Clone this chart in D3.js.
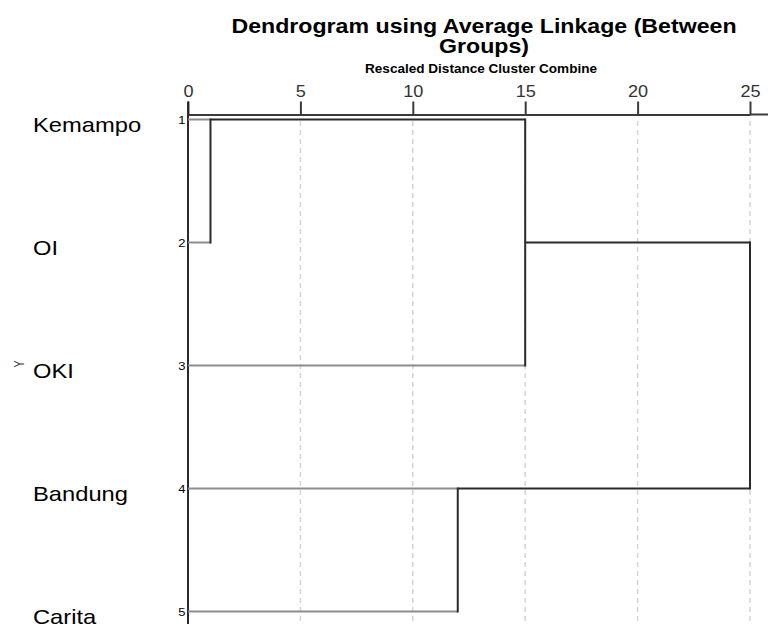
<!DOCTYPE html>
<html>
<head>
<meta charset="utf-8">
<script src="https://cdn.jsdelivr.net/npm/d3@7"></script>
<style>
  html, body { margin: 0; padding: 0; background: #fff; overflow: hidden; }
  svg { display: block; font-family: "Liberation Sans", Arial, sans-serif; }
</style>
</head>
<body>
<svg id="chart" width="768" height="624"></svg>
<script>
// ---- data ----
const caseLabels = ["Kemampo", "OI", "OKI", "Bandung", "Carita"];
const caseNumbers = [1, 2, 3, 4, 5];
// Agglomeration schedule (cluster combined), rescaled distances
const mergeClusterA = [1, 4, 1, 1];
const mergeClusterB = [2, 5, 3, 4];
const mergeDistance = [1, 12, 15, 25];
const axisTicks = [0, 5, 10, 15, 20, 25];
const titleLines = ["Dendrogram using Average Linkage (Between", "Groups)"];
const subtitle = "Rescaled Distance Cluster Combine";
const yAxisTitle = "Y";

// ---- layout ----
const svg = d3.select("#chart");
const SX = 1.13; // horizontal text stretch of the original rendering
const x = d3.scaleLinear().domain([0, 25]).range([188, 750]);
const y = d3.scalePoint().domain(caseNumbers).range([119.5, 611.5]);

const dark = "#2a2a2a", leaf = "#8c8c8c";

function stretchedText(g, tx, ty, str) {
  return g.append("text")
    .attr("transform", `translate(${tx},${ty}) scale(${SX},1)`)
    .text(str);
}

// title
const tg = svg.append("g").attr("text-anchor", "middle").attr("font-weight", "bold").attr("fill", "#000");
stretchedText(tg, 484, 32.5, titleLines[0]).attr("font-size", 20.5);
stretchedText(tg, 484, 52.5, titleLines[1]).attr("font-size", 20.5);
stretchedText(tg, 481, 72.7, subtitle).attr("font-size", 12);

// grid lines
svg.append("g").selectAll("line")
  .data(axisTicks.filter(t => t > 0))
  .join("line")
  .attr("x1", d => x(d)).attr("x2", d => x(d))
  .attr("y1", 121).attr("y2", 624)
  .attr("stroke", "#d4d4d4").attr("stroke-width", 1.5)
  .attr("stroke-dasharray", "5,4");

// top axis
const axisG = svg.append("g")
  .attr("transform", "translate(0,114.5)")
  .call(d3.axisTop(x).tickValues(axisTicks).tickSize(13).tickSizeOuter(0).tickPadding(4.5));
axisG.select(".domain").attr("stroke", "#3a3a3a").attr("stroke-width", 2);
axisG.selectAll(".tick line").attr("stroke", "#3a3a3a").attr("stroke-width", 2);
axisG.selectAll(".tick text")
  .attr("font-size", 16).attr("font-family", "Liberation Sans, Arial, sans-serif")
  .attr("fill", "#333")
  .attr("transform", `scale(${SX},1)`);
// axis line extension to the right edge
svg.append("line").attr("x1", x(25)).attr("x2", 768).attr("y1", 114.5).attr("y2", 114.5)
  .attr("stroke", "#3a3a3a").attr("stroke-width", 2);
// left vertical axis
svg.append("line").attr("x1", x(0)).attr("x2", x(0)).attr("y1", 101.5).attr("y2", 624)
  .attr("stroke", "#2a2a2a").attr("stroke-width", 2);

// case labels
const lg = svg.append("g").attr("fill", "#000");
caseLabels.forEach((lab, i) => {
  stretchedText(lg, 33, y(caseNumbers[i]) + 12.5, lab).attr("font-size", 21);
});
// case numbers
const ng = svg.append("g").attr("text-anchor", "end").attr("fill", "#000");
caseNumbers.forEach(n => {
  stretchedText(ng, 185.5, y(n) + 4, n).attr("font-size", 11.5);
});
// Y axis title
svg.append("text")
  .attr("transform", `translate(24,364) rotate(-90) scale(0.7,1)`)
  .attr("text-anchor", "middle").attr("font-size", 15).attr("fill", "#333")
  .text(yAxisTitle);

// ---- dendrogram from the agglomeration schedule ----
const state = new Map();
caseNumbers.forEach(n => state.set(n, { xPos: 0, row: n, isLeaf: true }));
const linkG = svg.append("g").attr("fill", "none");
mergeClusterA.forEach((a, i) => {
  const b = mergeClusterB[i], d = mergeDistance[i];
  const A = state.get(a), B = state.get(b);
  [A, B].forEach(c => {
    linkG.append("line")
      .attr("x1", x(c.xPos)).attr("x2", x(d))
      .attr("y1", y(c.row)).attr("y2", y(c.row))
      .attr("stroke", c.isLeaf ? leaf : dark).attr("stroke-width", 2);
  });
  linkG.append("line")
    .attr("x1", x(d)).attr("x2", x(d))
    .attr("y1", y(A.row) - 1).attr("y2", y(B.row) + 1)
    .attr("stroke", dark).attr("stroke-width", 2);
  const newRow = Math.floor((A.row + B.row) / 2);
  state.set(a, { xPos: d, row: newRow, isLeaf: false });
  state.delete(b);
});
</script>
</body>
</html>
